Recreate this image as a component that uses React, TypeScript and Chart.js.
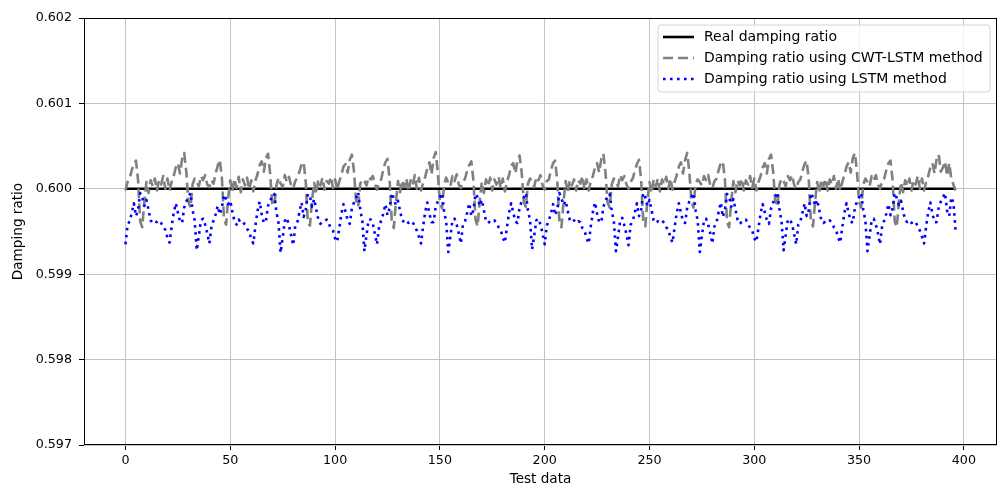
import React, { useEffect, useRef } from "react";
import { Chart, registerables } from "chart.js";

Chart.register(...registerables);

const SERIES_NAMES = [
  "Real damping ratio",
  "Damping ratio using CWT-LSTM method",
  "Damping ratio using LSTM method",
];

const X_TICKS = [0, 50, 100, 150, 200, 250, 300, 350, 400];
const Y_TICKS = [0.597, 0.598, 0.599, 0.6, 0.601, 0.602];
const X_TITLE = "Test data";
const Y_TITLE = "Damping ratio";

const REAL_RATIO = 0.6;

const CWT_LSTM = [
  // 0-39
  0.59998, 0.60008, 0.60012, 0.60022, 0.60030, 0.60033, 0.60010, 0.59962, 0.59955, 0.59985,
  0.60008, 0.59995, 0.60010, 0.60003, 0.60012, 0.59998, 0.60010, 0.60005, 0.60015, 0.60000,
  0.60012, 0.59998, 0.60008, 0.60015, 0.60025, 0.60030, 0.60018, 0.60035, 0.60042, 0.60020,
  0.59985, 0.59978, 0.60005, 0.60012, 0.60008, 0.60003, 0.60015, 0.60010, 0.60016, 0.60005,
  // 40-79
  0.60002, 0.60010, 0.60006, 0.60018, 0.60027, 0.60034, 0.60012, 0.59965, 0.59958, 0.59990,
  0.60010, 0.59997, 0.60012, 0.60001, 0.60014, 0.59996, 0.60011, 0.60004, 0.60013, 0.59999,
  0.60010, 0.59997, 0.60010, 0.60017, 0.60028, 0.60032, 0.60020, 0.60036, 0.60041, 0.60018,
  0.59983, 0.59980, 0.60004, 0.60013, 0.60006, 0.60002, 0.60016, 0.60008, 0.60014, 0.60004,
  // 80-119
  0.60000, 0.60009, 0.60013, 0.60020, 0.60029, 0.60031, 0.60008, 0.59960, 0.59957, 0.59987,
  0.60007, 0.59994, 0.60011, 0.60004, 0.60013, 0.59999, 0.60009, 0.60006, 0.60014, 0.60001,
  0.60011, 0.59999, 0.60009, 0.60016, 0.60026, 0.60029, 0.60019, 0.60034, 0.60040, 0.60021,
  0.59986, 0.59979, 0.60006, 0.60011, 0.60009, 0.60004, 0.60014, 0.60011, 0.60015, 0.60006,
  // 120-159
  0.59999, 0.60007, 0.60011, 0.60023, 0.60031, 0.60035, 0.60011, 0.59963, 0.59954, 0.59984,
  0.60009, 0.59996, 0.60010, 0.60002, 0.60012, 0.59997, 0.60010, 0.60004, 0.60016, 0.60000,
  0.60013, 0.59998, 0.60007, 0.60014, 0.60024, 0.60031, 0.60017, 0.60036, 0.60043, 0.60019,
  0.59984, 0.59977, 0.60005, 0.60013, 0.60007, 0.60003, 0.60015, 0.60009, 0.60017, 0.60005,
  // 160-199
  0.60001, 0.60008, 0.60012, 0.60021, 0.60028, 0.60032, 0.60010, 0.59964, 0.59956, 0.59986,
  0.60008, 0.59995, 0.60011, 0.60003, 0.60013, 0.59998, 0.60011, 0.60005, 0.60014, 0.60001,
  0.60012, 0.59997, 0.60008, 0.60016, 0.60027, 0.60030, 0.60018, 0.60033, 0.60039, 0.60020,
  0.59985, 0.59979, 0.60006, 0.60012, 0.60008, 0.60002, 0.60014, 0.60010, 0.60016, 0.60004,
  // 200-239
  0.59999, 0.60009, 0.60011, 0.60022, 0.60030, 0.60033, 0.60009, 0.59962, 0.59955, 0.59985,
  0.60009, 0.59996, 0.60010, 0.60004, 0.60011, 0.59998, 0.60010, 0.60006, 0.60015, 0.59999,
  0.60011, 0.59998, 0.60009, 0.60015, 0.60025, 0.60030, 0.60019, 0.60035, 0.60041, 0.60019,
  0.59984, 0.59978, 0.60005, 0.60012, 0.60008, 0.60003, 0.60016, 0.60010, 0.60015, 0.60005,
  // 240-279
  0.60000, 0.60008, 0.60012, 0.60021, 0.60029, 0.60034, 0.60011, 0.59963, 0.59956, 0.59986,
  0.60008, 0.59995, 0.60011, 0.60003, 0.60012, 0.59997, 0.60011, 0.60005, 0.60014, 0.60000,
  0.60012, 0.59999, 0.60008, 0.60016, 0.60026, 0.60031, 0.60018, 0.60034, 0.60042, 0.60020,
  0.59985, 0.59978, 0.60006, 0.60011, 0.60008, 0.60004, 0.60015, 0.60010, 0.60016, 0.60004,
  // 280-319
  0.60001, 0.60009, 0.60012, 0.60022, 0.60030, 0.60032, 0.60010, 0.59961, 0.59955, 0.59985,
  0.60009, 0.59996, 0.60010, 0.60004, 0.60012, 0.59998, 0.60010, 0.60005, 0.60015, 0.60001,
  0.60012, 0.59998, 0.60008, 0.60015, 0.60025, 0.60030, 0.60018, 0.60035, 0.60040, 0.60020,
  0.59986, 0.59979, 0.60005, 0.60012, 0.60009, 0.60003, 0.60015, 0.60010, 0.60016, 0.60005,
  // 320-359
  0.60000, 0.60008, 0.60011, 0.60021, 0.60029, 0.60033, 0.60010, 0.59962, 0.59956, 0.59985,
  0.60008, 0.59995, 0.60011, 0.60003, 0.60012, 0.59998, 0.60011, 0.60005, 0.60015, 0.60000,
  0.60012, 0.59998, 0.60008, 0.60016, 0.60026, 0.60031, 0.60019, 0.60036, 0.60042, 0.60020,
  0.59985, 0.59978, 0.60005, 0.60012, 0.60008, 0.60003, 0.60015, 0.60010, 0.60016, 0.60005,
  // 360-396
  0.60000, 0.60009, 0.60012, 0.60022, 0.60030, 0.60033, 0.60010, 0.59962, 0.59955, 0.59986,
  0.60008, 0.59996, 0.60010, 0.60003, 0.60012, 0.59998, 0.60010, 0.60005, 0.60015, 0.60000,
  0.60012, 0.59998, 0.60008, 0.60015, 0.60025, 0.60030, 0.60018, 0.60035, 0.60040, 0.60020,
  0.60025, 0.60032, 0.60015, 0.60030, 0.60012, 0.60005, 0.59998,
];

const LSTM = [
  // 0-39
  0.59935, 0.59958, 0.59962, 0.59972, 0.59983, 0.59968, 0.59975, 0.59995, 0.59990, 0.59980,
  0.59987, 0.59975, 0.59963, 0.59960, 0.59962, 0.59961, 0.59963, 0.59960, 0.59955, 0.59952,
  0.59943, 0.59937, 0.59955, 0.59972, 0.59983, 0.59972, 0.59962, 0.59960, 0.59978, 0.59985,
  0.59990, 0.59995, 0.59975, 0.59963, 0.59928, 0.59945, 0.59963, 0.59965, 0.59958, 0.59948,
  // 40-79
  0.59936, 0.59955, 0.59963, 0.59970, 0.59980, 0.59970, 0.59978, 0.59993, 0.59988, 0.59982,
  0.59986, 0.59973, 0.59962, 0.59958, 0.59964, 0.59960, 0.59961, 0.59958, 0.59953, 0.59950,
  0.59941, 0.59936, 0.59957, 0.59974, 0.59985, 0.59970, 0.59960, 0.59962, 0.59980, 0.59986,
  0.59991, 0.59994, 0.59973, 0.59960, 0.59925, 0.59943, 0.59962, 0.59966, 0.59957, 0.59946,
  // 80-119
  0.59934, 0.59957, 0.59961, 0.59973, 0.59984, 0.59967, 0.59976, 0.59994, 0.59991, 0.59979,
  0.59988, 0.59976, 0.59964, 0.59959, 0.59961, 0.59962, 0.59964, 0.59959, 0.59954, 0.59951,
  0.59942, 0.59938, 0.59954, 0.59971, 0.59982, 0.59973, 0.59963, 0.59959, 0.59977, 0.59984,
  0.59989, 0.59996, 0.59976, 0.59962, 0.59927, 0.59946, 0.59964, 0.59964, 0.59959, 0.59947,
  // 120-159
  0.59935, 0.59956, 0.59963, 0.59971, 0.59982, 0.59969, 0.59977, 0.59995, 0.59989, 0.59981,
  0.59986, 0.59974, 0.59963, 0.59961, 0.59963, 0.59960, 0.59962, 0.59961, 0.59956, 0.59951,
  0.59944, 0.59936, 0.59956, 0.59973, 0.59984, 0.59971, 0.59961, 0.59961, 0.59979, 0.59985,
  0.59990, 0.59995, 0.59974, 0.59961, 0.59926, 0.59944, 0.59963, 0.59965, 0.59958, 0.59948,
  // 160-199
  0.59936, 0.59958, 0.59962, 0.59972, 0.59983, 0.59968, 0.59975, 0.59994, 0.59990, 0.59980,
  0.59987, 0.59975, 0.59962, 0.59960, 0.59962, 0.59961, 0.59963, 0.59960, 0.59955, 0.59952,
  0.59943, 0.59937, 0.59955, 0.59972, 0.59983, 0.59972, 0.59962, 0.59960, 0.59978, 0.59985,
  0.59990, 0.59995, 0.59975, 0.59963, 0.59929, 0.59945, 0.59963, 0.59965, 0.59958, 0.59948,
  // 200-239
  0.59935, 0.59957, 0.59963, 0.59971, 0.59982, 0.59969, 0.59976, 0.59995, 0.59989, 0.59981,
  0.59986, 0.59974, 0.59963, 0.59961, 0.59963, 0.59960, 0.59962, 0.59961, 0.59954, 0.59951,
  0.59942, 0.59936, 0.59956, 0.59973, 0.59984, 0.59971, 0.59961, 0.59961, 0.59979, 0.59986,
  0.59991, 0.59994, 0.59974, 0.59962, 0.59927, 0.59944, 0.59962, 0.59966, 0.59957, 0.59947,
  // 240-279
  0.59934, 0.59958, 0.59962, 0.59972, 0.59983, 0.59968, 0.59975, 0.59995, 0.59990, 0.59980,
  0.59987, 0.59975, 0.59963, 0.59960, 0.59962, 0.59961, 0.59963, 0.59960, 0.59955, 0.59952,
  0.59943, 0.59937, 0.59955, 0.59972, 0.59983, 0.59972, 0.59962, 0.59960, 0.59978, 0.59985,
  0.59990, 0.59995, 0.59975, 0.59963, 0.59926, 0.59945, 0.59963, 0.59965, 0.59958, 0.59948,
  // 280-319
  0.59936, 0.59956, 0.59961, 0.59973, 0.59984, 0.59967, 0.59976, 0.59994, 0.59991, 0.59979,
  0.59988, 0.59976, 0.59964, 0.59959, 0.59961, 0.59962, 0.59964, 0.59959, 0.59954, 0.59951,
  0.59942, 0.59938, 0.59954, 0.59971, 0.59982, 0.59973, 0.59963, 0.59959, 0.59977, 0.59984,
  0.59989, 0.59996, 0.59976, 0.59962, 0.59928, 0.59946, 0.59964, 0.59964, 0.59959, 0.59947,
  // 320-359
  0.59935, 0.59958, 0.59962, 0.59972, 0.59983, 0.59968, 0.59975, 0.59995, 0.59990, 0.59980,
  0.59987, 0.59975, 0.59963, 0.59960, 0.59962, 0.59961, 0.59963, 0.59960, 0.59955, 0.59952,
  0.59943, 0.59937, 0.59955, 0.59972, 0.59983, 0.59972, 0.59962, 0.59960, 0.59978, 0.59985,
  0.59990, 0.59995, 0.59975, 0.59963, 0.59927, 0.59945, 0.59963, 0.59965, 0.59958, 0.59948,
  // 360-396
  0.59935, 0.59957, 0.59963, 0.59971, 0.59982, 0.59969, 0.59977, 0.59995, 0.59989, 0.59981,
  0.59986, 0.59974, 0.59963, 0.59961, 0.59963, 0.59960, 0.59962, 0.59961, 0.59956, 0.59951,
  0.59944, 0.59936, 0.59956, 0.59973, 0.59984, 0.59971, 0.59961, 0.59961, 0.59979, 0.59985,
  0.59990, 0.59995, 0.59974, 0.59968, 0.59990, 0.59984, 0.59952,
];

const COLORS = ["#000000", "#808080", "#0000ff"];
const DASHES: number[][] = [[], [10, 5], [2.6, 4.4]];
const LINE_W = 2.6;
const FONT_FAMILY = "'DejaVu Sans', 'Liberation Sans', sans-serif";
const TICK_SIZE = 12.7;
const TITLE_SIZE = 13.6;
const LEGEND_SIZE = 14;

const toPoints = (vals: number[]) => vals.map((v, i) => ({ x: i, y: v }));

const framePlugin = {
  id: "frameAndLegend",
  afterDraw(chart: any) {
    const { ctx, chartArea: a } = chart;
    ctx.save();
    // axes frame
    ctx.strokeStyle = "#000";
    ctx.lineWidth = 1;
    ctx.setLineDash([]);
    ctx.strokeRect(
      Math.round(a.left) + 0.5,
      Math.round(a.top) + 0.5,
      Math.round(a.right - a.left) - 1,
      Math.round(a.bottom - a.top) - 1
    );

    // legend
    const bw = 332;
    const bh = 67;
    const bx = a.right - 7 - bw;
    const by = a.top + 7;
    const r = 3;
    ctx.beginPath();
    ctx.moveTo(bx + r, by);
    ctx.lineTo(bx + bw - r, by);
    ctx.quadraticCurveTo(bx + bw, by, bx + bw, by + r);
    ctx.lineTo(bx + bw, by + bh - r);
    ctx.quadraticCurveTo(bx + bw, by + bh, bx + bw - r, by + bh);
    ctx.lineTo(bx + r, by + bh);
    ctx.quadraticCurveTo(bx, by + bh, bx, by + bh - r);
    ctx.lineTo(bx, by + r);
    ctx.quadraticCurveTo(bx, by, bx + r, by);
    ctx.closePath();
    ctx.fillStyle = "rgba(255,255,255,0.8)";
    ctx.fill();
    ctx.strokeStyle = "#d6d6d6";
    ctx.lineWidth = 1;
    ctx.stroke();

    const rows = [12, 33, 54];
    SERIES_NAMES.forEach((name, k) => {
      const y = by + rows[k];
      ctx.beginPath();
      ctx.strokeStyle = COLORS[k];
      ctx.lineWidth = LINE_W;
      ctx.setLineDash(DASHES[k]);
      ctx.lineCap = "butt";
      ctx.moveTo(bx + 5, y);
      ctx.lineTo(bx + 36, y);
      ctx.stroke();
      ctx.setLineDash([]);
      ctx.fillStyle = "#000";
      ctx.font = `${LEGEND_SIZE}px ${FONT_FAMILY}`;
      ctx.textAlign = "left";
      ctx.textBaseline = "middle";
      ctx.fillText(name, bx + 46, y);
    });
    ctx.restore();
  },
};

export default function App() {
  const canvasRef = useRef<HTMLCanvasElement | null>(null);

  useEffect(() => {
    const canvas = canvasRef.current;
    if (!canvas) return;
    const realSeries = CWT_LSTM.map(() => REAL_RATIO);
    const seriesValues = [realSeries, CWT_LSTM, LSTM];

    const chart = new Chart(canvas, {
      type: "line",
      data: {
        datasets: SERIES_NAMES.map((name, k) => ({
          label: name,
          data: toPoints(seriesValues[k]),
          borderColor: COLORS[k],
          backgroundColor: COLORS[k],
          borderWidth: LINE_W,
          borderDash: DASHES[k],
          borderCapStyle: "butt",
          borderJoinStyle: "round",
          pointRadius: 0,
          pointHoverRadius: 0,
          tension: 0,
          fill: false,
          order: 3 - k,
        })),
      },
      options: {
        responsive: false,
        animation: false,
        devicePixelRatio: 1,
        layout: { padding: { left: 0, right: 8, top: 18, bottom: 0 } },
        plugins: {
          legend: { display: false },
          tooltip: { enabled: false },
        },
        scales: {
          x: {
            type: "linear",
            min: -19.8,
            max: 415.8,
            afterBuildTicks: (s: any) => {
              s.ticks = X_TICKS.map((v) => ({ value: v }));
            },
            afterFit: (s: any) => {
              s.height = 43;
            },
            ticks: {
              color: "#000",
              font: { family: FONT_FAMILY, size: TICK_SIZE },
              padding: 3,
              maxRotation: 0,
              autoSkip: false,
              callback: (v: any) => String(v),
            },
            grid: {
              color: "#c4c4c4",
              lineWidth: 1,
              tickColor: "#000",
              tickLength: 5,
              tickWidth: 1,
            },
            border: { display: false },
            title: {
              display: true,
              text: X_TITLE,
              color: "#000",
              font: { family: FONT_FAMILY, size: TITLE_SIZE },
              padding: { top: 0, bottom: 0 },
            },
          },
          y: {
            type: "linear",
            min: 0.597,
            max: 0.602,
            afterBuildTicks: (s: any) => {
              s.ticks = Y_TICKS.map((v) => ({ value: v }));
            },
            afterFit: (s: any) => {
              s.width = 84;
            },
            ticks: {
              color: "#000",
              font: { family: FONT_FAMILY, size: TICK_SIZE },
              padding: 7,
              autoSkip: false,
              callback: (v: any) => Number(v).toFixed(3),
            },
            grid: {
              color: "#c4c4c4",
              lineWidth: 1,
              tickColor: "#000",
              tickLength: 5,
              tickWidth: 1,
            },
            border: { display: false },
            title: {
              display: true,
              text: Y_TITLE,
              color: "#000",
              font: { family: FONT_FAMILY, size: TITLE_SIZE },
              padding: { top: 10, bottom: 0 },
            },
          },
        },
      },
      plugins: [framePlugin],
    });
    return () => chart.destroy();
  }, []);

  return (
    <div style={{ position: "absolute", left: 0, top: 0, width: 1005, height: 488, background: "#fff" }}>
      <canvas ref={canvasRef} width={1005} height={488} style={{ display: "block" }} />
    </div>
  );
}
